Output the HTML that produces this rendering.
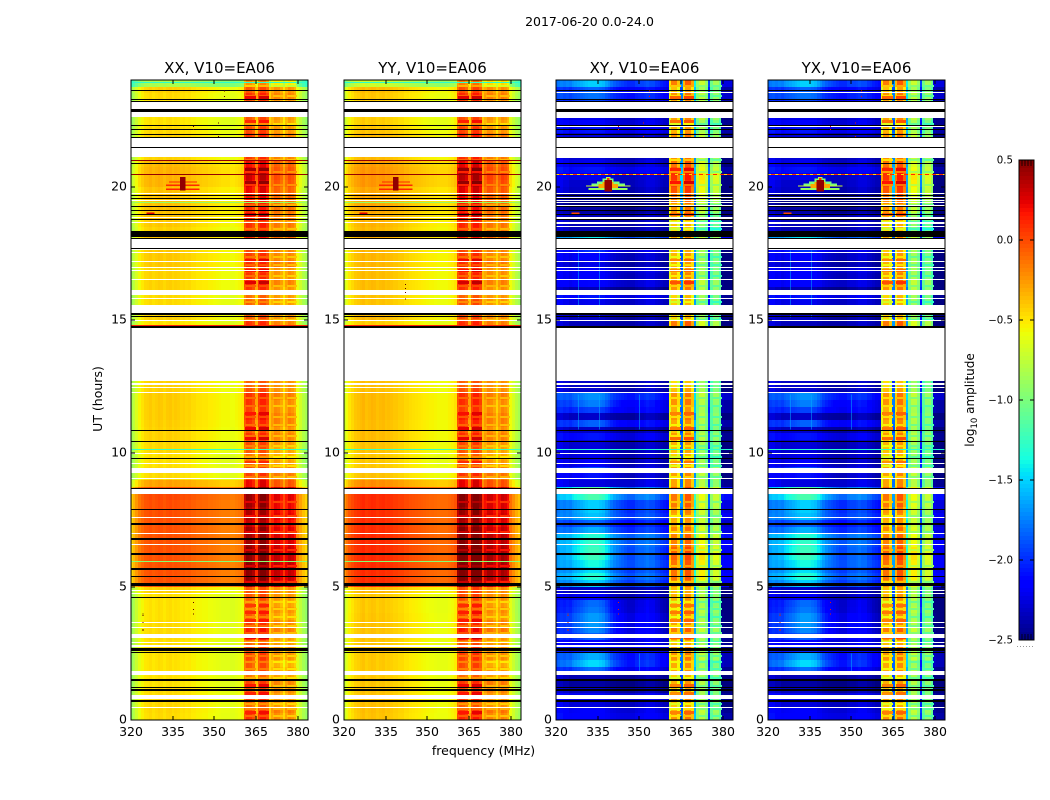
<!DOCTYPE html>
<html lang="en">
<head>
<meta charset="utf-8">
<title>2017-06-20 amplitude waterfall</title>
<style>
html,body{margin:0;padding:0;background:#fff;}
svg{display:block;font-family:"DejaVu Sans","Liberation Sans",sans-serif;fill:#000;}
.cell,.flag{shape-rendering:crispEdges;}
</style>
</head>
<body>
<svg id="figure" xmlns="http://www.w3.org/2000/svg" width="1050" height="800" viewBox="0 0 1050 800">
<rect x="0" y="0" width="1050" height="800" fill="#fff"/>
<text x="589.5" y="26" font-size="12.5" text-anchor="middle">2017-06-20 0.0-24.0</text>
<text x="483.5" y="755" font-size="12.5" text-anchor="middle">frequency (MHz)</text>
<text x="102" y="399" font-size="12.5" text-anchor="middle" transform="rotate(-90 102 399)">UT (hours)</text>
<text x="974" y="400" font-size="12" text-anchor="middle" transform="rotate(-90 974 400)">log<tspan font-size="8.5" dy="3">10</tspan><tspan dy="-3"> amplitude</tspan></text>
<g id="panels"></g>
<g id="colorbar"></g>
</svg>
<script>
// ---------- Chart data ----------
const panelTitles = ["XX, V10=EA06", "YY, V10=EA06", "XY, V10=EA06", "YX, V10=EA06"];
const freqTicks = [320, 335, 350, 365, 380];
const timeTicks = [0, 5, 10, 15, 20];
const colorTicks = [-2.5, -2.0, -1.5, -1.0, -0.5, 0.0, 0.5];

// log10 amplitude per 1 MHz channel (320 MHz upwards)
const baseXX = [-.9,-.82,-.72,-.62,-.56,-.51,-.5,-.48,-.51,-.49,
  -.47,-.48,-.51,-.48,-.47,-.5,-.48,-.49,-.51,-.5,
  -.52,-.51,-.54,-.54,-.56,-.56,-.57,-.57,-.59,-.59,
  -.6,-.61,-.62,-.63,-.63,-.63,-.65,-.65,-.63,-.61,
  -.58,-.2,-.08,-.1,-.18,-.46,-.12,-.03,-.03,-.14,
  -.45,-.32,-.22,-.24,-.32,-.48,-.32,-.22,-.26,-.34,
  -.65,-.75,-.85,-.92,-.97];
const baseYY = [-.74,-.64,-.56,-.51,-.46,-.44,-.42,-.4,-.44,-.42,
  -.4,-.41,-.44,-.42,-.41,-.44,-.43,-.44,-.46,-.46,
  -.48,-.48,-.51,-.51,-.53,-.54,-.55,-.56,-.57,-.58,
  -.59,-.6,-.6,-.61,-.62,-.62,-.62,-.62,-.6,-.58,
  -.54,-.17,-.05,-.07,-.14,-.44,-.12,-.01,-.01,-.12,
  -.42,-.3,-.2,-.22,-.3,-.46,-.3,-.2,-.24,-.32,
  -.63,-.73,-.83,-.9,-.94];
const baseCross = [-2.15,-2.15,-2.15,-2.2,-2.2,-2.25,-2.25,-2.25,-2.25,-2.25,
  -2.25,-2.25,-2.25,-2.25,-2.25,-2.25,-2.25,-2.25,-2.27,-2.27,
  -2.29,-2.29,-2.3,-2.3,-2.3,-2.3,-2.3,-2.3,-2.3,-2.27,
  -2.25,-2.25,-2.23,-2.2,-2.2,-2.2,-2.23,-2.25,-2.27,-2.3,
  -2.3,-.72,-.38,-.38,-.62,-1.9,-.58,-.28,-.28,-.52,
  -1.6,-.98,-.78,-.78,-.98,-2.0,-1.12,-.92,-.92,-1.12,
  -2.42,-2.45,-2.45,-2.45,-2.45];
// how strongly the bright XY/YX sky patch shows in each channel
const skyPatchWeight = [.25,.3,.35,.4,.45,.5,.6,.65,.7,.75,
  .8,.85,.9,.9,.9,.9,.85,.8,.7,.6,
  .5,.4,.35,.3,.25,.2,.15,.15,.15,.2,
  .2,.2,.2,.2,.15,.15,.1,.1,.05,.05,
  0,0,0,0,0,0,0,0,0,0,
  0,0,0,0,0,0,0,0,0,0,
  0,0,0,0,0];

// values per quarter-hour row, from 0 h upwards (four values per hour)
const gainXX = [
  .02,.03,.03,.02, .02,0,0,0, 0,0,.02,0, .02,.02,.02,0, 0,0,0,.05,
  .46,.46,.46,.46, .46,.46,.46,.46, .46,.46,.47,.47, .47,.49,.49,.2,
  .02,.02,0,0, .03,.03,.05,.05, .06,.07,.07,.07, .07,.05,.05,.05,
  0,0,0,0, 0,0,0,0, .05,.02,.02,.02, .05,.05,.05,.05, .08,.08,.08,.08,
  .1,.05,.08,.1, .1,.1,.1,.1, .15,.15,.15,.13, .05,.05,.05,.05,
  .03,0,0,0, 0,.02,.05,-.35];
const gainYY = [
  .03,.04,.04,.03, .03,.02,.01,.01, .01,.01,.03,.02, .03,.03,.03,.02, .01,.01,.01,.06,
  .51,.51,.51,.51, .52,.52,.52,.52, .51,.51,.51,.51, .51,.52,.52,.2,
  .03,.03,.01,.01, .03,.03,.05,.05, .05,.06,.06,.06, .06,.04,.04,.04,
  0,0,0,0, 0,0,0,0, .06,.03,.03,.03, .05,.05,.05,.05, .07,.07,.07,.07,
  .1,.06,.08,.1, .12,.12,.12,.12, .17,.17,.17,.15, .06,.06,.06,.06,
  .03,0,0,0, 0,.02,.05,-.3];
const bandModInner = [
  .15,.05,-.05,.1, .05,.1,-.05,.05, .05,.1,.05,0, .15,.2,.1,.05, .05,0,.05,0,
  .05,.1,.1,.1, .1,.1,.05,.05, .05,-.05,0,0, .05,.05,.1,.1,
  .1,.05,0,-.05, 0,.05,.1,0, .1,.15,.05,.1, .1,0,-.05,-.05,
  0,0,0,0, 0,0,-.05,.15, 0,-.05,0,-.05, .1,.15,.1,.05, .1,.05,0,0,
  .1,.1,.1,.15, .1,.1,.15,.2, .2,.25,.2,.15, .1,.1,.15,.1,
  .05,0,.05,.05, .1,.15,0,.2];
const bandModOuter = [
  0,.05,-.05,-.05, 0,.05,-.05,-.05, -.1,0,-.05,-.05, -.05,.05,0,-.05, 0,-.05,0,-.05,
  .05,.1,.1,.1, .1,.08,.05,.05, .02,-.03,0,-.02, -.02,0,.05,0,
  .05,0,-.05,-.1, -.1,-.05,0,-.05, 0,0,-.05,-.05, 0,-.05,-.05,-.05,
  0,0,0,0, 0,0,-.05,.05, -.05,-.05,-.05,-.05, -.05,0,-.05,-.05, 0,-.05,-.05,-.05,
  .05,0,0,-.02, 0,0,.03,.05, .05,.08,.05,.03, 0,0,.02,0,
  -.05,-.05,-.02,-.02, 0,.03,-.05,.05];
const bandGainCross = [
  0,0,.02,0, -.05,-.05,0,.02, .02,.05,.02,0, 0,.02,0,0, .02,0,0,0,
  .12,.15,.15,.15, .2,.2,.15,.15, .12,.1,.08,.12, .18,.2,.2,0,
  0,.05,0,0, 0,0,.02,-.02, -.02,0,0,.05, .05,0,-.05,-.05,
  0,0,0,0, 0,0,.05,.08, -.05,-.05,-.05,-.02, .05,.05,0,-.02, -.05,-.02,-.02,-.02,
  0,-.2,-.12,-.1, .05,.08,.1,.15, .2,.2,.15,.1, .05,.05,.05,.05,
  0,-.02,.05,.05, 0,0,0,.02];
const backgroundCross = [
  .05,0,-.05,0, -.15,-.2,-.15,0, .1,.1,.05,0, 0,-.05,-.05,-.05, -.1,-.1,-.1,-.15,
  .25,.3,.25,.3, .25,.25,.3,.35, .2,.15,.25,.2, .2,.35,.35,0,
  -.1,-.05,-.1,-.1, -.1,-.1,0,-.15, .05,-.15,.05,.05, .15,-.1,-.1,-.1,
  0,0,0,0, 0,0,-.1,-.1, -.15,-.15,-.05,0, -.2,-.05,-.1,-.05, -.15,-.1,-.05,-.05,
  .3,-.1,-.1,-.1, -.2,-.25,-.2,-.1, -.05,-.05,.05,-.05, -.1,-.1,-.1,-.1,
  .05,0,-.05,-.05, .05,.15,.05,.2];
const skyPatchCross = [
  .05,.1,.05,.05, .1,.05,.05,.5, .75,.6,.2,.1, .45,.65,.7,.7, .65,.6,.2,.1,
  .55,.7,.6,.65, .85,.85,.75,.65, .5,.3,.5,.6, .6,.8,.85,0,
  .3,.45,.2,.15, .1,.1,.2,.1, .4,.1,.3,.5, .45,.05,.05,.05,
  0,0,0,0, 0,0,0,0, .1,.15,.1,.2, .1,.2,.25,.15, .2,.25,.35,.3,
  .6,0,0,0, .05,0,.05,.05, 0,.1,.15,.1, .1,.1,.1,.1,
  .15,.1,.1,.2, .3,.35,.4,.6];

// narrow time stripes inside the four sub-bands (hours)
const paleStripeTimes = [.18,.45,.62,.95,1.3,1.62,1.95,2.2,2.45,2.95,3.3,3.55,3.9,4.2,4.45,5.2,5.8,6.4,7.1,7.7,8.2,9.15,9.55,9.9,10.3,10.7,11.1,11.4,11.8,12.1,12.65,15.05,15.4,15.7,16.3,16.7,17.1,17.4,18.45,18.7,19.35,20.1,20.6,21.05,22.4,22.7,23.1,23.45,23.8];
const darkStripeTimes = [.35,1.05,1.35,1.85,3.15,3.8,4.1,4.35,9.7,10.6,11.0,11.55,16.45,16.9,17.3,19.0,20.2,20.7,22.5,23.4];
const subBandCentres = [363, 368, 373, 378];

// faint vertical streaks in the cross-hand sky: frequency (MHz), time range (h)
const streakFreq = [327.8,335.6,327.8,335.6,350,350];
const streakLow = [15.1,15.1,10.9,10.9,1.8,10.9];
const streakHigh = [17.6,17.6,12.2,12.2,2.5,12.2];

// flagged intervals, in hours
const blackStart = [8.66,7.875,7.31,6.75,6.2,5.625,5.36,5.04,4.575,2.6,2.51,1.47,1.2,1.1,.69,10.84,10.425,9.79,14.69,15.11,15.26,15.2,17.66,18.05,18.12,18.75,18.94,19.09,19.22,19.52,19.65,20.85,21.45,21.81,21.95,22.16,22.275,22.8,23.175,23.25,23.625];
const blackEnd =   [8.7,7.93,7.37,6.81,6.27,5.69,5.4,5.13,4.61,2.69,2.55,1.53,1.24,1.15,.75,10.875,10.46,9.825,14.775,15.15,15.28,15.22,17.69,18.08,18.34,18.79,18.96,19.125,19.26,19.56,19.69,20.89,21.49,21.86,21.975,22.18,22.31,22.9,23.21,23.27,23.64];
const whiteStart = [8.475,7.58,6.98,6.56,4.72,4.83,3.64,3.45,3.075,2.89,2.79,2.72,1.68,.8,.45,9.27,9.04,9.975,9.6,12.27,12.45,12.58,12.72,15.28,15.94,15.8,16.5,16.84,16.97,17.19,17.51,17.61,17.69,21.12,21.49,22.63,22.9,19.725,19.46,18.825,18.64,14.96];
const whiteEnd =   [8.66,7.61,7.0,6.6,4.78,4.86,3.67,3.49,3.225,2.925,2.82,2.76,1.84,.93,.49,9.45,9.075,10.01,9.64,12.31,12.49,12.62,14.69,15.57,16.125,15.825,16.54,16.875,17.0,17.23,17.55,17.66,18.05,21.45,21.81,22.8,23.2,19.775,19.5,18.86,18.675,15.0];
const whiteStartCross = [23.5,22.56,22.24,21.06,19.56,19.4,19.3,18.8,18.6,18.5];
const whiteEndCross =   [23.54,22.6,22.27,21.1,19.6,19.43,19.33,18.84,18.64,18.54];

// thin single-integration lines: time (h) and log10 amplitude
const lineTimeAuto = [23.93,20.99,20.46,19.42,14.8,10.17,5.95];
const lineValueAuto = [-1.3,.45,.45,-.9,.12,-1.25,-.95];
const lineTimeCross = [20.46,19.42,10.17];
const lineValueCross = [.1,-1.2,-1.3];

// burst near 339 MHz, 20 h: centre (MHz), time range (h), half width (MHz), log10 amplitude
const burstFreqAuto = [338.7,338.7,338.7,338.7,327];
const burstLowAuto = [20.15,20.03,19.88,19.85,18.97];
const burstHighAuto = [20.2,20.08,19.93,20.37,19.03];
const burstHalfAuto = [5,6,6,1,1.5];
const burstValueAuto = [.1,.1,.12,.45,.25];
const burstFreqCross = [338.8,338.8,338.8,338.8,338.8,338.8,338.8,338.8,338.8,338.8,327];
const burstLowCross = [19.88,20,20.05,20.12,20.2,20.3,19.95,20.1,19.82,20.25,18.97];
const burstHighCross = [19.95,20.05,20.12,20.2,20.3,20.37,20.1,20.18,20.25,20.32,19.03];
const burstHalfCross = [7,8,6,4,2,.8,3.5,2,1.4,.5,1.5];
const burstValueCross = [-.9,-.7,-1.0,-1.0,-1,-.8,-.3,-.3,.45,.1,0];

// isolated outlier samples
const dotFreqMain = [324.2,324.2,324.2,324.2,324.2,342.4,342.4,342.4,353.6,353.6,351.4,342.3,342.3,351.4];
const dotTimeMain = [4.0,3.94,3.67,3.42,3.37,4.42,4.17,4.0,23.6,23.4,22.4,22.27,22.17,21.9];
const dotFreqYY = [342,342,342,342];
const dotTimeYY = [16.35,16.2,16.05,15.8];

// ---------- Layout ----------
const SVG = "http://www.w3.org/2000/svg";
const panelWidth = 177, plotTop = 80, plotBottom = 720;
const panelOrigin = 131.3, panelStep = 212.3;
const freqMin = 320, pxPerMHz = 2.775, timeMax = 24;
const rowHours = 0.25, channelOffset = -0.4;
const colorLow = -2.5, colorHigh = 0.5;
const barLeft = 1019, barRight = 1034, barTop = 160, barBottom = 640;

function panelLeft(p) { return Math.round(panelOrigin + panelStep * p); }
function xScale(p, f) { return panelLeft(p) + (f - freqMin) * pxPerMHz; }
function yScale(t) { return plotBottom - (plotBottom - plotTop) * t / timeMax; }
function clampX(p, x) { return Math.max(panelLeft(p), Math.min(panelLeft(p) + panelWidth, x)); }
function colorY(v) { return barBottom - (v - colorLow) / (colorHigh - colorLow) * (barBottom - barTop); }

function ramp(n, xs, ys) {
  if (n <= xs[0]) return ys[0];
  for (let i = 1; i < xs.length; i++) {
    if (n <= xs[i]) return ys[i - 1] + (ys[i] - ys[i - 1]) * (n - xs[i - 1]) / (xs[i] - xs[i - 1]);
  }
  return ys[ys.length - 1];
}
function jet(v) {
  const n = Math.max(0, Math.min(1, (v - colorLow) / (colorHigh - colorLow)));
  const r = ramp(n, [.35, .66, .89, 1], [0, 1, 1, .5]);
  const g = ramp(n, [.125, .375, .64, .91], [0, 1, 1, 0]);
  const b = ramp(n, [0, .11, .34, .65], [.5, 1, 1, 0]);
  return "rgb(" + Math.round(r * 255) + "," + Math.round(g * 255) + "," + Math.round(b * 255) + ")";
}
function svgEl(tag, attrs, parent) {
  const el = document.createElementNS(SVG, tag);
  for (const k in attrs) el.setAttribute(k, attrs[k]);
  parent.appendChild(el);
  return el;
}
function isInner(ch) { return ch >= 41 && ch <= 49; }
function isOuter(ch) { return ch >= 51 && ch <= 59; }

function cellValue(p, ch, row) {
  const mod = isInner(ch) ? bandModInner[row] : (isOuter(ch) ? bandModOuter[row] : 0);
  if (p === 0) return baseXX[ch] + gainXX[row] + mod;
  if (p === 1) return baseYY[ch] + gainYY[row] + mod;
  const inBand = isInner(ch) || isOuter(ch);
  if (inBand) return baseCross[ch] + bandGainCross[row] + mod;
  return baseCross[ch] + backgroundCross[row] + skyPatchWeight[ch] * skyPatchCross[row];
}

// ---------- Draw panels ----------
const panelsGroup = document.getElementById("panels");
panelTitles.forEach(function (title, p) {
  const isCross = p >= 2;
  const left = panelLeft(p), right = left + panelWidth;
  const g = svgEl("g", {}, panelsGroup);
  
  

  // heatmap cells
  const cells = svgEl("g", {}, g);
  
  
  for (let row = 0; row < gainXX.length; row++) {
    const yTop = Math.round(yScale((row + 1) * rowHours));
    const yBot = Math.round(yScale(row * rowHours));
    for (let ch = 0; ch < baseXX.length; ch++) {
      const x0 = Math.round(clampX(p, xScale(p, freqMin + ch + channelOffset)));
      const x1 = Math.round(clampX(p, xScale(p, freqMin + ch + 1 + channelOffset)));
      if (x1 <= x0) continue;
      const cell = svgEl("rect", { class: "cell", x: x0, y: yTop, width: x1 - x0, height: yBot - yTop, fill: jet(cellValue(p, ch, row)) }, cells);
      
      
    }
  }

  // narrow stripes across each sub-band
  function stripes(times, deltaValue, height, subBands) {
    times.forEach(function (t) {
      const row = Math.min(gainXX.length - 1, Math.floor(t / rowHours));
      subBands.forEach(function (fc) {
        const ch = Math.round(fc - freqMin);
        const x0 = Math.round(xScale(p, fc - 1.9));
        const x1 = Math.round(xScale(p, fc + 1.9));
        const s = svgEl("rect", { class: "cell", x: x0, y: Math.round(yScale(t)), width: x1 - x0, height: height, fill: jet(cellValue(p, ch, row) + deltaValue) }, g);
        
        
      });
    });
  }
  stripes(paleStripeTimes, isCross ? -.25 : -.18, 2, subBandCentres);
  stripes(darkStripeTimes, .15, 3, subBandCentres.slice(0, 2));

  // faint vertical streaks in the cross-hand sky
  if (isCross) {
    streakFreq.forEach(function (f, i) {
      const s = svgEl("rect", { class: "cell", x: Math.round(xScale(p, f)), y: yScale(streakHigh[i]), width: 1, height: yScale(streakLow[i]) - yScale(streakHigh[i]), fill: jet(-1.6), opacity: .5 }, g);
      
      
    });
  }

  // burst near 339 MHz
  const bF = isCross ? burstFreqCross : burstFreqAuto;
  const bL = isCross ? burstLowCross : burstLowAuto;
  const bH = isCross ? burstHighCross : burstHighAuto;
  const bW = isCross ? burstHalfCross : burstHalfAuto;
  const bV = isCross ? burstValueCross : burstValueAuto;
  bF.forEach(function (f, i) {
    const x0 = xScale(p, f - bW[i]), x1 = xScale(p, f + bW[i]);
    const r = svgEl("rect", { class: "cell", x: x0, y: yScale(bH[i]), width: x1 - x0, height: Math.max(1, yScale(bL[i]) - yScale(bH[i])), fill: jet(bV[i]) }, g);
    
    
  });

  // thin coloured lines
  const lT = isCross ? lineTimeCross : lineTimeAuto;
  const lV = isCross ? lineValueCross : lineValueAuto;
  lT.forEach(function (t, i) {
    const r = svgEl("rect", { class: "cell", x: left, y: Math.round(yScale(t)), width: panelWidth, height: 1, fill: jet(lV[i]) }, g);
    
    
    if (isCross && t > 20) {
      const d = svgEl("line", { x1: left, x2: right, y1: Math.round(yScale(t)) + .5, y2: Math.round(yScale(t)) + .5, stroke: "#ffe000", "stroke-dasharray": "3 4" }, g);
      
      
    }
  });

  // white flagged intervals
  function whiteBand(t0, t1) {
    const r = svgEl("rect", { class: "flag", x: left, y: Math.round(yScale(t1)), width: panelWidth, height: Math.max(1, Math.round(yScale(t0)) - Math.round(yScale(t1))), fill: "#fff" }, g);
    
    
  }
  whiteStart.forEach(function (t, i) { whiteBand(t, whiteEnd[i]); });
  if (isCross) whiteStartCross.forEach(function (t, i) { whiteBand(t, whiteEndCross[i]); });

  // black flagged intervals
  blackStart.forEach(function (t, i) {
    const r = svgEl("rect", { class: "flag", x: left, y: Math.round(yScale(blackEnd[i])), width: panelWidth, height: Math.max(1, Math.round(yScale(t)) - Math.round(yScale(blackEnd[i]))), fill: "#000" }, g);
    
    
  });

  // outlier samples
  const dF = p === 1 ? dotFreqYY : dotFreqMain;
  const dT = p === 1 ? dotTimeYY : dotTimeMain;
  dF.forEach(function (f, i) {
    const r = svgEl("rect", { class: "flag", x: xScale(p, f), y: yScale(dT[i]), width: 1, height: 1, fill: isCross ? "#e02000" : "#600000" }, g);
    
    
  });

  // axes frame
  const frame = svgEl("rect", { x: left, y: plotTop, width: panelWidth, height: plotBottom - plotTop, fill: "none", stroke: "#000", "stroke-width": 1 }, g);
  
  

  // x ticks and labels
  freqTicks.forEach(function (f) {
    const x = Math.round(xScale(p, f));
    const a = svgEl("line", { x1: x, x2: x, y1: plotBottom, y2: plotBottom - 4, stroke: "#000" }, g);
    
    
    const b = svgEl("line", { x1: x, x2: x, y1: plotTop, y2: plotTop + 4, stroke: "#000" }, g);
    
    
    const lab = svgEl("text", { x: x, y: 736, "font-size": 12.5, "text-anchor": "middle" }, g);
    lab.textContent = String(f);
    
    
  });

  // y ticks and labels
  timeTicks.forEach(function (t) {
    const y = Math.round(yScale(t));
    const a = svgEl("line", { x1: left, x2: left + 4, y1: y, y2: y, stroke: "#000" }, g);
    
    
    const b = svgEl("line", { x1: right, x2: right - 4, y1: y, y2: y, stroke: "#000" }, g);
    
    
    const lab = svgEl("text", { x: left - 4, y: y + 3.5, "font-size": 12.5, "text-anchor": "end" }, g);
    lab.textContent = String(t);
    
    
  });

  const ttl = svgEl("text", { x: left + panelWidth / 2, y: 73, "font-size": 15, "text-anchor": "middle" }, g);
  ttl.textContent = title;
  
  
});

// ---------- Colorbar ----------
const bar = document.getElementById("colorbar");
for (let y = barTop; y < barBottom; y += 4) {
  const v = colorLow + (barBottom - y - 2) / (barBottom - barTop) * (colorHigh - colorLow);
  const s = svgEl("rect", { class: "cell", x: barLeft, y: y, width: barRight - barLeft, height: 4, fill: jet(v) }, bar);
  
  
}
const barFrame = svgEl("rect", { x: barLeft, y: barTop, width: barRight - barLeft, height: barBottom - barTop, fill: "none", stroke: "#000" }, bar);


colorTicks.forEach(function (v) {
  const y = Math.round(colorY(v));
  const a = svgEl("line", { x1: barLeft, x2: barLeft + 4, y1: y, y2: y, stroke: "#000" }, bar);
  
  
  const b = svgEl("line", { x1: barRight, x2: barRight - 4, y1: y, y2: y, stroke: "#000" }, bar);
  
  
  const lab = svgEl("text", { x: barLeft - 6, y: y + 3.5, "font-size": 10.2, "text-anchor": "end" }, bar);
  lab.textContent = v.toFixed(1).replace("-", "\u2212");
  
  
});
for (let x = barLeft + 3; x < barRight; x += 3) {
  const t = svgEl("line", { x1: x, x2: x, y1: barTop, y2: barTop + 6, stroke: "#000", "stroke-width": .8 }, bar);
  
  
  const u = svgEl("line", { x1: x, x2: x, y1: barBottom, y2: barBottom - 6, stroke: "#000", "stroke-width": .8 }, bar);
  
  
}
const dots = svgEl("line", { x1: 1017, x2: 1035, y1: 646.5, y2: 646.5, stroke: "#999", "stroke-dasharray": "1 2" }, bar);


</script>
</body>
</html>
